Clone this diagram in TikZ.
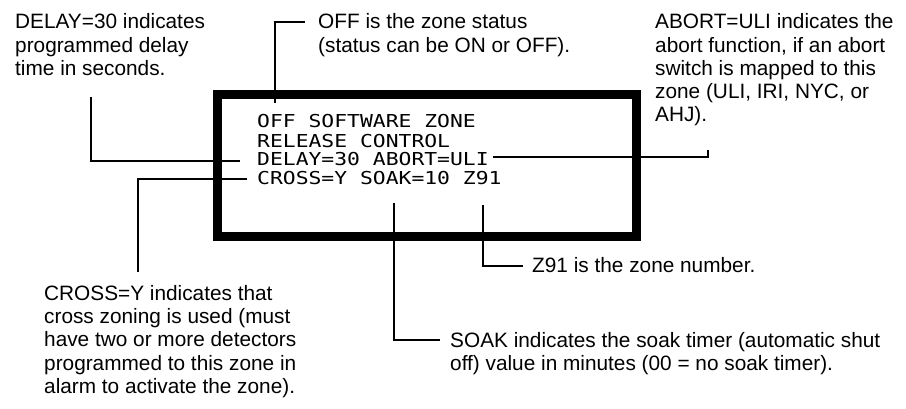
\documentclass[tikz,border=0pt]{standalone}
\usepackage{fontspec}
\setmainfont{Liberation Sans}
\newfontfamily\lcdfont[FakeStretch=1.2]{DejaVu Sans Mono}
\begin{document}
\begin{tikzpicture}[x=1pt,y=-1pt,
  lbl/.style={anchor=north west, inner sep=0pt, align=left, font=\fontsize{20.8}{23.3}\selectfont},
  lcd/.style={anchor=north west, inner sep=0pt, align=left, font=\lcdfont\fontsize{17.8}{18.5}\selectfont},
  conn/.style={line width=1.8pt},
  panel/.style={draw, line width=9pt, inner sep=0pt, anchor=north west}]
\useasboundingbox[fill=white] (0,0) rectangle (906,408);
% display panel
\node[panel, minimum width=418.5pt, minimum height=142pt] (panel) at (213,89.5) {};
\node[lcd] (screen) at (257,114.05) {\strut OFF SOFTWARE ZONE\\RELEASE CONTROL\\DELAY=30 ABORT=ULI\\CROSS=Y SOAK=10 Z91};
% labels
\node[lbl] (delaylbl) at (15,12.2) {\strut DELAY=30 indicates\\programmed delay\\time in seconds.};
\node[lbl] (offlbl) at (318,12.2) {\strut OFF is the zone status\\(status can be ON or OFF).};
\node[lbl] (abortlbl) at (655,12.2) {\strut ABORT=ULI indicates the\\abort function, if an abort\\switch is mapped to this\\zone (ULI, IRI, NYC, or\\AHJ).};
\node[lbl] (crosslbl) at (44,283.7) {\strut CROSS=Y indicates that\\cross zoning is used (must\\have two or more detectors\\programmed to this zone in\\alarm to activate the zone).};
\node[lbl] (z91lbl) at (532,255.7) {\strut Z91 is the zone number.};
\node[lbl] (soaklbl) at (450,330.7) {\strut SOAK indicates the soak timer (automatic shut\\off) value in minutes (00 = no soak timer).};
% connector end points
\coordinate (offA) at (305,22);
\coordinate (offB) at (275,103);
\coordinate (delA) at (91,97);
\coordinate (delB) at (240,161);
\coordinate (abA) at (493,157);
\coordinate (abB) at (708,150);
\coordinate (crA) at (247,179);
\coordinate (crB) at (138,272);
\coordinate (soA) at (394,203);
\coordinate (soB) at (440,340);
\coordinate (zA) at (483,205);
\coordinate (zB) at (523,266);
% connectors
\draw[conn] (offA) -| (offB);
\draw[conn] (delA) |- (delB);
\draw[conn] (abA) -| (abB);
\draw[conn] (crA) -| (crB);
\draw[conn] (soA) |- (soB);
\draw[conn] (zA) |- (zB);
\end{tikzpicture}
\end{document}
